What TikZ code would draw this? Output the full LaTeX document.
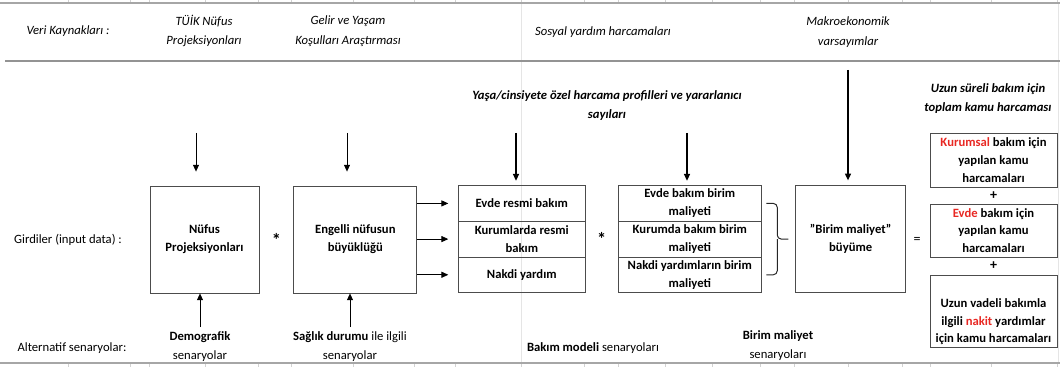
\documentclass[tikz,border=0pt]{standalone}
\usepackage{fontspec}
\setmainfont{Carlito}
\usepackage{xcolor}
\usetikzlibrary{arrows.meta, positioning, calc}
\definecolor{kirmizi}{RGB}{232,40,35}
\tikzset{
  kutu/.style   = {rectangle, draw=black!70, line width=0.6pt,
                   minimum height=26.75mm, align=center, inner sep=1pt,
                   font=\bfseries\fontsize{9}{12.7}\selectfont},
  satir/.style  = {rectangle, draw=black!70, line width=0.6pt,
                   minimum height=8.92mm, align=center, inner sep=1pt,
                   outer sep=0pt, font=\bfseries\fontsize{9}{12.7}\selectfont},
  sonuc/.style  = {rectangle, draw=black!70, line width=0.6pt,
                   minimum width=31.75mm, align=center, inner sep=1pt,
                   font=\bfseries\fontsize{9}{12.7}\selectfont},
  kaynak/.style = {align=center, font=\itshape\fontsize{9}{14}\selectfont},
  baslik/.style = {align=center, font=\bfseries\itshape\fontsize{9}{13.5}\selectfont},
  etiket/.style = {align=center, font=\fontsize{9}{13.5}\selectfont},
  isaret/.style = {inner sep=1pt, font=\bfseries\fontsize{10}{12}\selectfont},
  flow/.style   = {-{Triangle[length=1.7mm, width=1.5mm]}, line width=0.5pt},
  kalin/.style  = {flow, line width=0.9pt},
  izgara/.style = {gray!35, line width=0.4pt},
}

\begin{document}
\begin{tikzpicture}[x=0.25mm, y=-0.25mm]
  \useasboundingbox (0,0) rectangle (1060,367);

  % spreadsheet grid behind the diagram
  \foreach \gx in {68,130,149,205,258,291,353,414,455,521,584,618,665,712,760,794,848,902,930,991,1057} {
    \draw[izgara] (\gx,0) -- (\gx,3);
    \draw[izgara] (\gx,363) -- (\gx,367);
  }
  \draw[izgara, gray!20] (521,3) -- (521,363);
  \draw[izgara, gray!20] (1058,3) -- (1058,363);
  \draw[gray!70, line width=0.8pt] (0,3) -- (1060,3);
  \draw[gray!85, line width=0.9pt] (5,61) -- (1060,61);
  \draw[gray!70, line width=0.8pt] (0,363) -- (1060,363);

  % data sources
  \node[kaynak] (veri) at (68,31) {Veri Kaynakları :};
  \node[kaynak] (tuik) at (204,31) {TÜİK Nüfus\\Projeksiyonları};
  \node[kaynak] (gelir) at (348,31) {Gelir ve Yaşam\\Koşulları Araştırması};
  \node[kaynak] (sosyal) at (603,32) {Sosyal yardım harcamaları};
  \node[kaynak] (makro) at (848,32) {Makroekonomik\\varsayımlar};
  \node[baslik] (profil) at (607,106) {Yaşa/cinsiyete özel harcama profilleri ve yararlanıcı\\sayıları};
  \node[baslik] (toplam) at (988,99) {Uzun süreli bakım için\\toplam kamu harcaması};

  % row labels
  \node[etiket] (girdi) at (68,240) {Girdiler (input data) :};
  \node[etiket] (alt) at (72,348) {Alternatif senaryolar:};

  % input boxes
  \node[kutu, minimum width=27.25mm] (nufus) at (204.5,239.5) {Nüfus\\Projeksiyonları};
  \node[kutu, minimum width=30.75mm, right=8.5mm of nufus] (engelli) {Engelli nüfusun\\büyüklüğü};
  \node[satir, minimum width=31.75mm, anchor=north west] (evde) at ([xshift=10.25mm]engelli.north east) {Evde resmi bakım};
  \node[satir, minimum width=31.75mm, below=0pt of evde] (kurum) {Kurumlarda resmi\\bakım};
  \node[satir, minimum width=31.75mm, below=0pt of kurum] (nakdi) {Nakdi yardım};
  \node[satir, minimum width=35.75mm, right=8.25mm of evde] (evdemal) {Evde bakım birim\\maliyeti};
  \node[satir, minimum width=35.75mm, below=0pt of evdemal] (kurummal) {Kurumda bakım birim\\maliyeti};
  \node[satir, minimum width=35.75mm, below=0pt of kurummal] (nakdimal) {Nakdi yardımların birim\\maliyeti};
  \node[kutu, minimum width=27.5mm, right=8.5mm of kurummal] (buyume) {"Birim maliyet"\\büyüme};

  % result column
  \node[sonuc, minimum height=13.5mm] (kurumsal) at (993.5,160) {\textcolor{kirmizi}{Kurumsal} bakım için\\yapılan kamu\\harcamaları};
  \node[sonuc, minimum height=13.25mm] (evdekamu) at (993.5,230.5) {\textcolor{kirmizi}{Evde} bakım için\\yapılan kamu\\harcamaları};
  \node[sonuc, minimum height=18mm] (nakitkamu) at (993.5,311) {\strut\\Uzun vadeli bakımla\\ilgili \textcolor{kirmizi}{nakit} yardımlar\\için kamu harcamaları};

  % operators
  \node[isaret, font=\bfseries\fontsize{13}{14}\selectfont] (carpi1) at ($(nufus.east)!0.5!(engelli.west)$) {*};
  \node[isaret, font=\bfseries\fontsize{13}{14}\selectfont] (carpi2) at ($(kurum.east)!0.5!(kurummal.west)$) {*};
  \node[isaret, font=\fontsize{10}{12}\selectfont] (esit) at (917,240) {=};
  \node[isaret] (arti1) at ($(kurumsal.south)!0.5!(evdekamu.north)$) {+};
  \node[isaret] (arti2) at ($(evdekamu.south)!0.5!(nakitkamu.north)$) {+};

  % scenarios
  \node[etiket] (demo) at (200,347) {\textbf{Demografik}\\senaryolar};
  \node[etiket] (saglik) at (350,347) {\textbf{Sağlık durumu} ile ilgili\\senaryolar};
  \node[etiket] (model) at (593,348) {\textbf{Bakım modeli} senaryoları};
  \node[etiket] (birim) at (778,346) {\textbf{Birim maliyet}\\senaryoları};

  % arrows
  \coordinate (uNufus) at (196,133);
  \coordinate (uEngelli) at (347,133);
  \coordinate (uEvde) at (516,133);
  \coordinate (uEvdeMal) at (687,133);
  \coordinate (uMakro) at (848,70);
  \draw[flow, shorten >=3.5mm] (uNufus) -- (uNufus |- nufus.north);
  \draw[flow, shorten >=3.5mm] (uEngelli) -- (uEngelli |- engelli.north);
  \draw[kalin, shorten >=1.2mm] (uEvde) -- (uEvde |- evde.north);
  \draw[kalin, shorten >=1.2mm] (uEvdeMal) -- (uEvdeMal |- evdemal.north);
  \draw[kalin, shorten >=1.2mm] (uMakro) -- (uMakro |- buyume.north);
  \draw[flow] (demo.north) -- (demo.north |- nufus.south);
  \draw[flow] (saglik.north) -- (saglik.north |- engelli.south);
  \foreach \hedef in {evde, kurum, nakdi}
    \draw[flow, shorten >=2.5mm] (engelli.east |- \hedef.west) -- (\hedef.west);

  % brace
  \draw[black!85, line width=0.7pt, rounded corners=1mm] ([xshift=1.25mm]evdemal.east) -| ($(kurummal.east)+(4mm,0)$) -- ([xshift=-1.75mm]buyume.west);
  \draw[black!85, line width=0.7pt, rounded corners=1mm] ([xshift=1.25mm]nakdimal.east) -| ($(kurummal.east)+(4mm,0)$);
\end{tikzpicture}
\end{document}
